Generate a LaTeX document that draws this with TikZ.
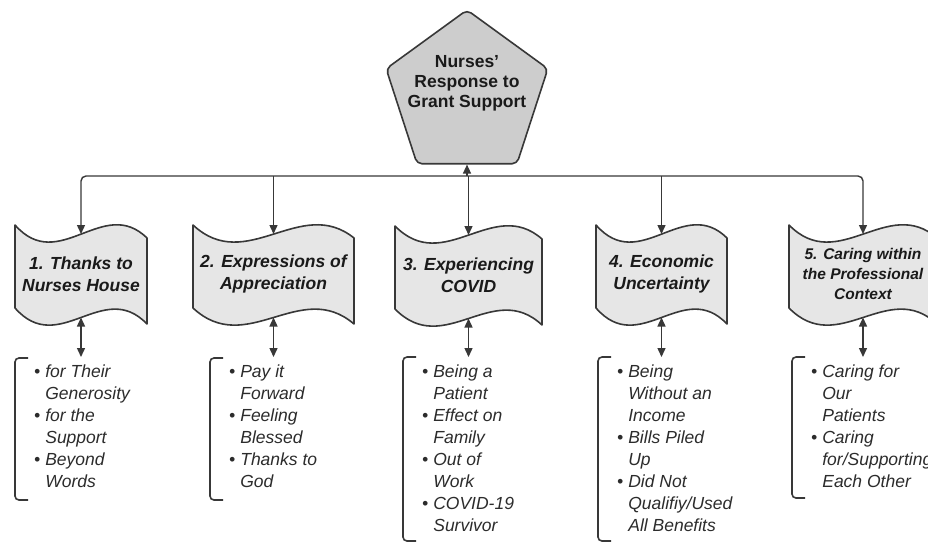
\documentclass[tikz,border=0pt]{standalone}
\usepackage{fontspec}
\setmainfont{Liberation Sans}
\usetikzlibrary{arrows.meta,shapes.geometric}
\definecolor{strk}{HTML}{383838}
\definecolor{pfill}{HTML}{CDCDCD}
\definecolor{bfill}{HTML}{E6E6E6}
\definecolor{ttext}{HTML}{1A1A1A}
\definecolor{ltext}{HTML}{2C2C2C}
\tikzset{
  boxline/.style={draw=strk, fill=bfill, line width=1.6pt, line join=round},
  conn/.style={draw=strk, line width=1.4pt},
  tip/.style={-{Triangle[length=9pt,width=8pt]}},
  dtip/.style={{Triangle[length=9pt,width=8pt]}-{Triangle[length=9pt,width=8pt]}},
  brk/.style={draw=strk, line width=1.6pt, rounded corners=4pt},
  btitle/.style={align=center, text=ttext, inner sep=0pt, font=\fontsize{17.5}{22.5}\selectfont\bfseries\itshape},
  btitlesm/.style={align=center, text=ttext, inner sep=0pt, font=\fontsize{15.5}{20}\selectfont\bfseries\itshape},
  listtext/.style={anchor=north west, inner sep=0pt, text=ltext, font=\fontsize{17.5}{22}\selectfont\itshape},
  ptitle/.style={align=center, text=ttext, inner sep=0pt, font=\fontsize{17.5}{20}\selectfont\bfseries},
}
\newcommand\wavebox[6]{%
  \pgfmathsetmacro\wbw{#3-#2}%
  \draw[boxline] (#2,#4) .. controls ({#2+\wbw/3},{#4+50}) and ({#2+2*\wbw/3},{#4-30}) .. (#3,{#4+13})
     -- (#3,{#4+99}) .. controls ({#2+2*\wbw/3},{#4+83-30}) and ({#2+\wbw/3},{#4+83+50}) .. (#2,{#4+83}) -- cycle;
  \node[#5] (#1) at ({(#2+#3)/2},{#4+49}) {#6};
  \coordinate (#1t) at ({(#2+#3)/2},{#4+9});
  \coordinate (#1b) at ({(#2+#3)/2},{#4+92.5});
}
\newcommand\bracketat[3]{% left, top, bottom
  \draw[brk] ({#1+13},#2) -- (#1,#2) -- (#1,#3) -- ({#1+13},#3);
}
\begin{document}
\begin{tikzpicture}[x=1pt,y=-1pt]
\useasboundingbox[fill=white] (0,0) rectangle (928,542);

% central pentagon
\node[regular polygon, regular polygon sides=5, minimum size=170pt, inner sep=0pt,
      draw=strk, fill=pfill, line width=1.6pt, rounded corners=5pt] (pent) at (467,95) {};
\node[ptitle] (ptxt) at (467,83) {Nurses'\\Response to\\Grant Support};

% theme boxes
\wavebox{b1}{15}{147}{225}{btitle}{1. Thanks to\\Nurses House}
\wavebox{b2}{193}{354}{225}{btitle}{2. Expressions of\\Appreciation}
\wavebox{b3}{395}{542}{226}{btitle}{3. Experiencing\\COVID}
\wavebox{b4}{596}{727}{225}{btitle}{4. Economic\\Uncertainty}
\wavebox{b5}{789}{937}{225}{btitlesm}{5. Caring within\\the Professional\\Context}

% bus
\coordinate (bus) at (467,176);
\draw[conn,tip] (bus) -- (pent.south);
\draw[conn,tip,rounded corners=5pt] (bus) -| (b1t);
\draw[conn,tip,rounded corners=5pt] (bus) -| (b5t);
\draw[conn,tip] (b2t |- bus) -- (b2t);
\draw[conn,tip] (b3t |- bus) -- (b3t);
\draw[conn,tip] (b4t |- bus) -- (b4t);

% lists
\coordinate (l1top) at (81,357);
\coordinate (l2top) at (273.5,357);
\coordinate (l3top) at (468.5,357);
\coordinate (l4top) at (661.5,357);
\coordinate (l5top) at (863,357);
\draw[conn,dtip] (b1b) -- (l1top);
\draw[conn,dtip] (b2b) -- (l2top);
\draw[conn,dtip] (b3b) -- (l3top);
\draw[conn,dtip] (b4b) -- (l4top);
\draw[conn,dtip] (b5b) -- (l5top);

\bracketat{15}{358}{500}
\bracketat{210}{358}{500}
\bracketat{403}{357}{541}
\bracketat{598}{357}{541}
\bracketat{792}{357}{498}

\node[listtext] (l1) at (34,362) {\begin{tabular}{@{}l@{\hspace{5pt}}l@{}}
•& for Their\\ & Generosity\\ •& for the\\ & Support\\ •& Beyond\\ & Words\end{tabular}};
\node[listtext] (l2) at (229,362) {\begin{tabular}{@{}l@{\hspace{5pt}}l@{}}
•& Pay it\\ & Forward\\ •& Feeling\\ & Blessed\\ •& Thanks to\\ & God\end{tabular}};
\node[listtext] (l3) at (422,362) {\begin{tabular}{@{}l@{\hspace{5pt}}l@{}}
•& Being a\\ & Patient\\ •& Effect on\\ & Family\\ •& Out of\\ & Work\\ •& COVID-19\\ & Survivor\end{tabular}};
\node[listtext] (l4) at (617,362) {\begin{tabular}{@{}l@{\hspace{5pt}}l@{}}
•& Being\\ & Without an\\ & Income\\ •& Bills Piled\\ & Up\\ •& Did Not\\ & Qualifiy/Used\\ & All Benefits\end{tabular}};
\node[listtext] (l5) at (811,362) {\begin{tabular}{@{}l@{\hspace{5pt}}l@{}}
•& Caring for\\ & Our\\ & Patients\\ •& Caring\\ & for/Supporting\\ & Each Other\end{tabular}};
\end{tikzpicture}
\end{document}
